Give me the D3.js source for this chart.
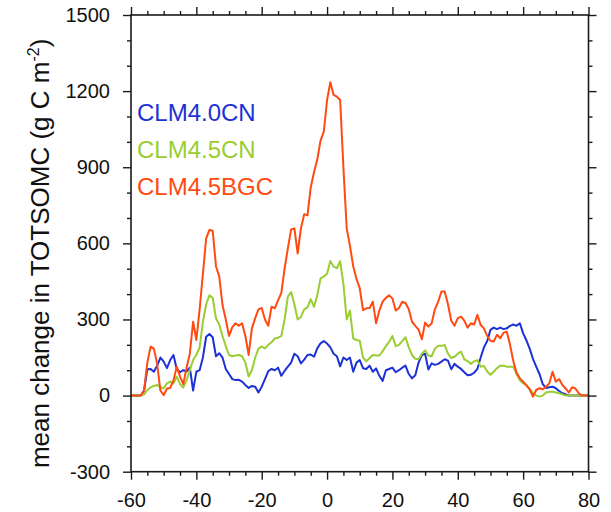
<!DOCTYPE html>
<html>
<head>
<meta charset="utf-8">
<script src="https://cdn.jsdelivr.net/npm/d3@7"></script>
<style>
  html, body { margin: 0; padding: 0; background: #fff; }
  svg { display: block; font-family: "Liberation Sans", Arial, Helvetica, sans-serif; }
</style>
</head>
<body>
<svg id="chart" width="611" height="512"></svg>
<script>
// Latitude grid (degrees), -60 .. 80
const lats = d3.range(-60, 81, 1);

// Series values (g C m-2)
const clm40cn = [
  0,0,0,0,
  20,104,105,94,118,150,134,108,140,160,
  105,92,100,95,110,20,94,100,150,232,
  243,230,155,167,150,105,85,65,61,62,
  55,42,30,38,35,12,35,65,96,105,
  100,110,78,97,114,130,165,155,127,142,
  160,162,153,186,206,215,205,190,165,155,
  115,150,140,150,94,130,140,108,105,118,
  94,107,78,58,100,105,110,92,100,110,
  118,85,68,80,130,160,165,103,127,121,
  125,134,143,138,104,125,114,105,92,80,
  82,90,105,150,190,215,259,268,262,268,
  262,265,275,280,275,285,245,218,185,145,
  114,85,45,30,33,35,29,18,9,5,
  0,0,0,0,0,0,0
];
const clm45cn = [
  0,0,0,0,
  5,22,32,38,42,33,29,48,55,48,
  75,45,32,60,100,140,160,190,290,360,
  395,385,305,280,235,195,160,155,158,160,
  155,130,75,100,150,185,193,186,200,210,
  225,228,235,300,390,408,360,300,310,340,
  348,380,350,395,462,469,480,530,508,502,
  530,440,300,335,225,219,216,150,135,147,
  160,158,158,175,195,212,235,195,200,215,
  230,190,160,145,143,165,178,158,155,185,
  196,196,199,165,148,153,165,173,143,136,
  125,135,140,114,117,95,82,94,108,118,
  118,114,114,114,85,60,48,42,24,10,
  0,-4,0,12,15,15,12,9,5,0,
  0,0,0,0,0,0,0
];
const clm45bgc = [
  0,0,0,0,
  20,130,193,185,125,20,2,28,30,60,
  114,75,45,110,165,291,219,340,480,620,
  653,650,510,470,357,300,235,270,285,275,
  285,235,160,265,305,340,345,300,275,350,
  344,375,405,500,580,655,659,560,659,715,
  710,820,880,930,1005,1040,1165,1235,1185,1178,
  1165,900,660,590,510,460,423,337,344,345,
  370,285,335,370,385,395,383,335,345,370,
  365,340,291,275,260,222,288,272,285,340,
  370,410,410,360,295,275,305,311,295,268,
  285,280,318,278,265,235,216,213,240,226,
  248,252,200,135,90,68,55,40,25,-4,
  22,29,25,35,48,94,55,65,42,28,
  12,33,28,9,0,0,0
];

const seriesNames = ["CLM4.0CN", "CLM4.5CN", "CLM4.5BGC"];
const seriesColors = ["#1c32d4", "#9acd32", "#ff4a12"];
const seriesData = [clm40cn, clm45cn, clm45bgc];

const xMajor = [-60, -40, -20, 0, 20, 40, 60, 80];
const xMinor = d3.range(-60, 81, 5).filter(v => !xMajor.includes(v));
const yMajor = [-300, 0, 300, 600, 900, 1200, 1500];
const yMinor = d3.range(-300, 1501, 100).filter(v => !yMajor.includes(v));

const L = 131, R = 588.5, T = 15, B = 471.7;
const svg = d3.select("#chart");
const x = d3.scaleLinear().domain([-60, 80]).range([L, R]);
const y = d3.scaleLinear().domain([-300, 1500]).range([B, T]);

const fmt = d => String(d);
const axisColor = "#1a1a1a";
function styleAxis(g) {
  g.select(".domain").remove();
  g.selectAll(".tick line").attr("stroke", axisColor).attr("stroke-width", 1.4);
  g.selectAll(".tick text").attr("fill", "#111").style("font-size", "20px")
    .style("font-family", '"Liberation Sans", Arial, sans-serif');
}

// Bottom
svg.append("g").attr("transform", `translate(0,${B})`)
  .call(d3.axisBottom(x).tickValues(xMajor).tickSize(8).tickSizeOuter(0).tickPadding(13).tickFormat(fmt))
  .call(styleAxis);
svg.append("g").attr("transform", `translate(0,${B})`)
  .call(d3.axisBottom(x).tickValues(xMinor).tickSize(4).tickSizeOuter(0).tickFormat(""))
  .call(styleAxis);
// Top
svg.append("g").attr("transform", `translate(0,${T})`)
  .call(d3.axisTop(x).tickValues(xMajor).tickSize(8).tickSizeOuter(0).tickFormat(""))
  .call(styleAxis);
svg.append("g").attr("transform", `translate(0,${T})`)
  .call(d3.axisTop(x).tickValues(xMinor).tickSize(4).tickSizeOuter(0).tickFormat(""))
  .call(styleAxis);
// Left
svg.append("g").attr("transform", `translate(${L},0)`)
  .call(d3.axisLeft(y).tickValues(yMajor).tickSize(8).tickSizeOuter(0).tickPadding(13).tickFormat(fmt))
  .call(styleAxis);
svg.append("g").attr("transform", `translate(${L},0)`)
  .call(d3.axisLeft(y).tickValues(yMinor).tickSize(4).tickSizeOuter(0).tickFormat(""))
  .call(styleAxis);
// Right
svg.append("g").attr("transform", `translate(${R},0)`)
  .call(d3.axisRight(y).tickValues(yMajor).tickSize(8).tickSizeOuter(0).tickFormat(""))
  .call(styleAxis);
svg.append("g").attr("transform", `translate(${R},0)`)
  .call(d3.axisRight(y).tickValues(yMinor).tickSize(4).tickSizeOuter(0).tickFormat(""))
  .call(styleAxis);

// Lines
const line = d3.line().x((d, i) => x(lats[i])).y(d => y(d));
seriesData.forEach((s, k) => {
  svg.append("path").datum(s)
    .attr("fill", "none")
    .attr("stroke", seriesColors[k])
    .attr("stroke-width", 2)
    .attr("stroke-linejoin", "round")
    .attr("d", line);
});

// Frame
svg.append("rect").attr("x", L).attr("y", T).attr("width", R - L).attr("height", B - T)
  .attr("fill", "none").attr("stroke", axisColor).attr("stroke-width", 1.6);

// Legend
const legendY = [120.5, 157.5, 194.5];
seriesNames.forEach((n, k) => {
  svg.append("text").attr("x", 137).attr("y", legendY[k])
    .attr("fill", seriesColors[k]).style("font-size", "24px").text(n);
});

// Y-axis title
const title = svg.append("text")
  .attr("transform", `translate(49,${(T + B) / 2 + 10}) rotate(-90)`)
  .attr("text-anchor", "middle")
  .attr("fill", "#111")
  .style("font-size", "26px");
title.append("tspan").text("mean change in TOTSOMC (g C m");
title.append("tspan").attr("dy", -10).style("font-size", "16px").text("-2");
title.append("tspan").attr("dy", 10).text(")");
</script>
</body>
</html>
